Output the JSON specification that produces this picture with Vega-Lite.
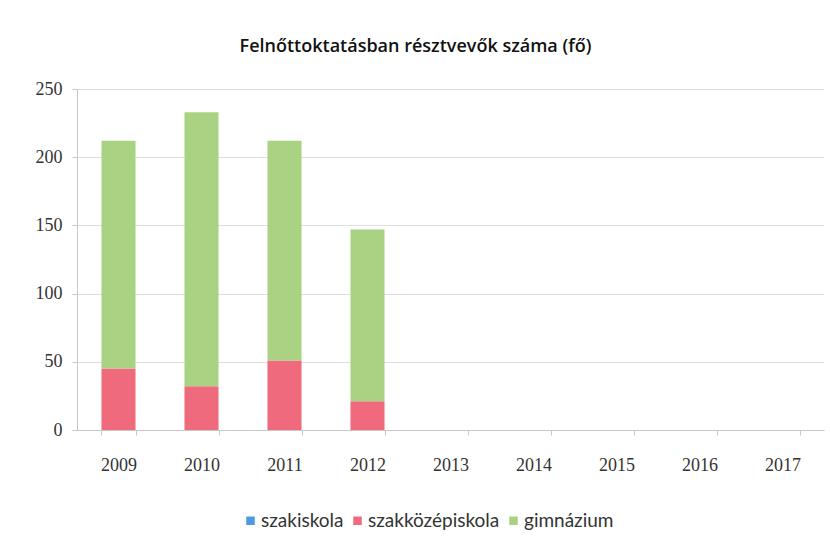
{
  "$schema": "https://vega.github.io/schema/vega-lite/v6.json",
  "autosize": {"type": "none"},
  "width": 747,
  "height": 341,
  "padding": {"left": 77, "top": 89, "right": 6, "bottom": 119},
  "background": "white",
  "title": {
    "text": "Felnőttoktatásban résztvevők száma (fő)",
    "font": "Open Sans",
    "fontSize": 18,
    "fontWeight": 600,
    "color": "#111111",
    "anchor": "middle",
    "frame": "group",
    "dx": -35,
    "offset": 24
  },
  "data": {
    "values": [
      {"ev": "2009", "tipus": "szakiskola", "fo": 0},
      {"ev": "2009", "tipus": "szakközépiskola", "fo": 45},
      {"ev": "2009", "tipus": "gimnázium", "fo": 167},
      {"ev": "2010", "tipus": "szakiskola", "fo": 0},
      {"ev": "2010", "tipus": "szakközépiskola", "fo": 32},
      {"ev": "2010", "tipus": "gimnázium", "fo": 201},
      {"ev": "2011", "tipus": "szakiskola", "fo": 0},
      {"ev": "2011", "tipus": "szakközépiskola", "fo": 51},
      {"ev": "2011", "tipus": "gimnázium", "fo": 161},
      {"ev": "2012", "tipus": "szakiskola", "fo": 0},
      {"ev": "2012", "tipus": "szakközépiskola", "fo": 21},
      {"ev": "2012", "tipus": "gimnázium", "fo": 126}
    ]
  },
  "mark": {"type": "bar"},
  "encoding": {
    "x": {
      "field": "ev",
      "type": "ordinal",
      "scale": {
        "domain": ["2009", "2010", "2011", "2012", "2013", "2014", "2015", "2016", "2017"],
        "paddingInner": 0.59,
        "paddingOuter": 0.295
      },
      "axis": {
        "title": null,
        "labelAngle": 0,
        "labelFont": "Liberation Serif",
        "labelFontSize": 18,
        "labelColor": "#333333",
        "labelPadding": 21,
        "tickBand": "extent",
        "tickSize": 5,
        "tickColor": "#c8c8c8",
        "domainColor": "#c8c8c8",
        "grid": false
      }
    },
    "y": {
      "field": "fo",
      "type": "quantitative",
      "stack": "zero",
      "scale": {"domain": [0, 250], "nice": false},
      "axis": {
        "title": null,
        "values": [0, 50, 100, 150, 200, 250],
        "labelFont": "Liberation Serif",
        "labelFontSize": 18,
        "labelColor": "#333333",
        "labelPadding": 10,
        "tickSize": 5,
        "tickColor": "#c8c8c8",
        "domainColor": "#c8c8c8",
        "gridColor": "#dedede"
      }
    },
    "color": {
      "field": "tipus",
      "type": "nominal",
      "sort": ["szakiskola", "szakközépiskola", "gimnázium"],
      "scale": {
        "domain": ["szakiskola", "szakközépiskola", "gimnázium"],
        "range": ["#4c9be0", "#ee6a7c", "#a9d283"]
      },
      "legend": {
        "title": null,
        "orient": "none",
        "direction": "horizontal",
        "legendX": 164,
        "legendY": 422,
        "symbolType": "square",
        "symbolSize": 72,
        "symbolStrokeWidth": 0,
        "symbolOpacity": 1,
        "labelFont": "Lato",
        "labelFontSize": 19,
        "labelColor": "#333333",
        "labelOffset": 1,
        "columnPadding": 4
      }
    },
    "order": {"field": "tipus", "sort": "descending"}
  },
  "config": {
    "view": {"stroke": null}
  }
}
